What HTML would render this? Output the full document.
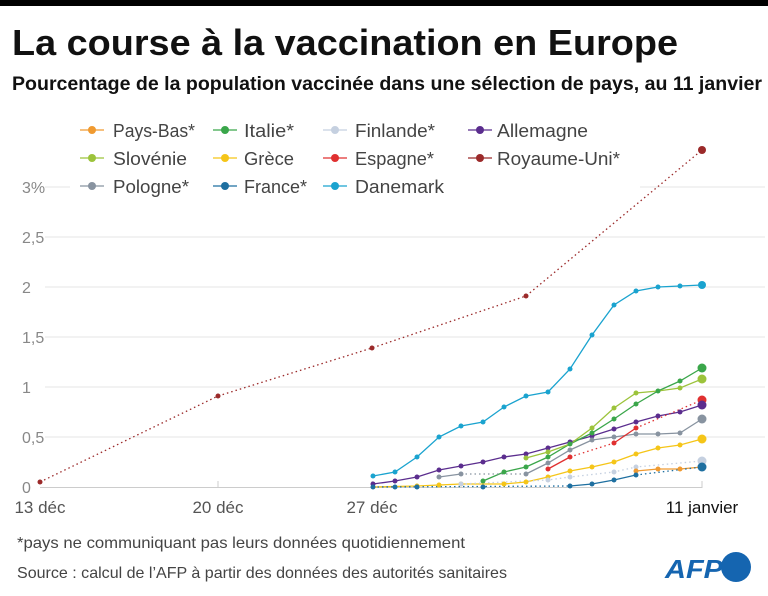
<!DOCTYPE html>
<html><head><meta charset="utf-8"><style>
html,body{margin:0;padding:0;background:#fff;}
svg{display:block;font-family:"Liberation Sans Narrow","Liberation Sans",sans-serif;}
</style></head><body>
<svg width="768" height="596" viewBox="0 0 768 596" xmlns="http://www.w3.org/2000/svg">
<rect x="0" y="0" width="768" height="6" fill="#000"/>
<text x="12" y="55" font-family="Liberation Sans, sans-serif" font-weight="bold" font-size="36" fill="#111" textLength="666" lengthAdjust="spacingAndGlyphs">La course à la vaccination en Europe</text>
<text x="12" y="90" font-family="Liberation Sans, sans-serif" font-weight="bold" font-size="19" fill="#111" textLength="750" lengthAdjust="spacingAndGlyphs">Pourcentage de la population vaccinée dans une sélection de pays, au 11 janvier</text>
<g stroke="#e6e6e6" stroke-width="1">
<line x1="45" y1="187" x2="765" y2="187"/><line x1="45" y1="237" x2="765" y2="237"/>
<line x1="45" y1="287" x2="765" y2="287"/><line x1="45" y1="337" x2="765" y2="337"/>
<line x1="45" y1="387" x2="765" y2="387"/><line x1="45" y1="437" x2="765" y2="437"/>
</g>
<line x1="40" y1="487.5" x2="702" y2="487.5" stroke="#ccc"/>
<g stroke="#ccc"><line x1="218" y1="481" x2="218" y2="488"/><line x1="372" y1="481" x2="372" y2="488"/><line x1="702" y1="481" x2="702" y2="488"/></g>
<g font-size="16" fill="#888" font-family="Liberation Sans, sans-serif">
<text x="22" y="193">3%</text><text x="22" y="243">2,5</text><text x="22" y="293">2</text>
<text x="22" y="343">1,5</text><text x="22" y="393">1</text><text x="22" y="443">0,5</text><text x="22" y="493">0</text>
</g>
<rect x="70" y="115" width="570" height="85" fill="#fff"/>
<g font-size="17" fill="#555" font-family="Liberation Sans, sans-serif">
<text x="40" y="513" text-anchor="middle">13 déc</text>
<text x="218" y="513" text-anchor="middle">20 déc</text>
<text x="372" y="513" text-anchor="middle">27 déc</text>
<text x="702" y="513" text-anchor="middle" fill="#111">11 janvier</text>
</g>
<g fill="none" stroke-width="1.3">
<polyline stroke="#9b2a2a" stroke-dasharray="1.5,3" points="40,482 218,396 372,348 526,296 702,150"/>
<polyline stroke="#1aa3cf" points="373,476 395,472 417,457 439,437 461,426 483,422 504,407 526,396 548,392 570,369 592,335 614,305 636,291 658,287 680,286 702,285"/>
<polyline stroke="#5b2d8e" points="373,484 395,481 417,477 439,470 461,466 483,462 504,457 526,454 548,448 570,442 592,436 614,429 636,422 658,416 680,412 702,405"/>
<polyline stroke="#3aa64a" points="483,481 504,472 526,467 548,457 570,444 592,433 614,419 636,404 658,391 680,381 702,368"/>
<polyline stroke="#9cc33b" points="526,458 548,452 570,444 592,428 614,408 636,393 658,391 680,388 702,379"/>
<polyline stroke="#8893a0" stroke-dasharray="1.5,3" points="461,474 526,474"/>
<polyline stroke="#8893a0" points="439,477 461,474"/>
<polyline stroke="#8893a0" points="526,474 548,463 570,450 592,440 614,437 636,434 658,434 680,433 702,419"/>
<polyline stroke="#f5c518" points="373,487 417,486 439,485 461,484 483,484 504,484 526,482 548,477 570,471 592,467 614,462 636,454 658,448 680,445 702,439"/>
<polyline stroke="#c5d0e0" stroke-dasharray="1.5,3" points="461,484 548,480 570,477 614,472 636,467 702,461"/>
<polyline stroke="#e03030" points="548,469 570,457"/>
<polyline stroke="#e03030" stroke-dasharray="1.5,3" points="570,457 614,443"/>
<polyline stroke="#e03030" points="614,443 636,428"/>
<polyline stroke="#e03030" stroke-dasharray="1.5,3" points="636,428 702,400"/>
<polyline stroke="#f09a30" points="636,471 658,469 680,469 702,467"/>
<polyline stroke="#1e6fa0" stroke-dasharray="1.5,3" points="373,487 570,486"/>
<polyline stroke="#1e6fa0" points="570,486 592,484 614,480 636,475"/>
<polyline stroke="#1e6fa0" stroke-dasharray="1.5,3" points="636,475 702,467"/>
</g>
<g>
<g fill="#9b2a2a"><circle cx="40" cy="482" r="2.5"/><circle cx="218" cy="396" r="2.5"/><circle cx="372" cy="348" r="2.5"/><circle cx="526" cy="296" r="2.5"/><circle cx="702" cy="150" r="4"/></g>
<g fill="#1aa3cf"><circle cx="373" cy="476" r="2.5"/><circle cx="395" cy="472" r="2.5"/><circle cx="417" cy="457" r="2.5"/><circle cx="439" cy="437" r="2.5"/><circle cx="461" cy="426" r="2.5"/><circle cx="483" cy="422" r="2.5"/><circle cx="504" cy="407" r="2.5"/><circle cx="526" cy="396" r="2.5"/><circle cx="548" cy="392" r="2.5"/><circle cx="570" cy="369" r="2.5"/><circle cx="592" cy="335" r="2.5"/><circle cx="614" cy="305" r="2.5"/><circle cx="636" cy="291" r="2.5"/><circle cx="658" cy="287" r="2.5"/><circle cx="680" cy="286" r="2.5"/><circle cx="702" cy="285" r="4"/></g>
<g fill="#5b2d8e"><circle cx="373" cy="484" r="2.5"/><circle cx="395" cy="481" r="2.5"/><circle cx="417" cy="477" r="2.5"/><circle cx="439" cy="470" r="2.5"/><circle cx="461" cy="466" r="2.5"/><circle cx="483" cy="462" r="2.5"/><circle cx="504" cy="457" r="2.5"/><circle cx="526" cy="454" r="2.5"/><circle cx="548" cy="448" r="2.5"/><circle cx="570" cy="442" r="2.5"/><circle cx="592" cy="436" r="2.5"/><circle cx="614" cy="429" r="2.5"/><circle cx="636" cy="422" r="2.5"/><circle cx="658" cy="416" r="2.5"/><circle cx="680" cy="412" r="2.5"/></g>
<g fill="#3aa64a"><circle cx="483" cy="481" r="2.5"/><circle cx="504" cy="472" r="2.5"/><circle cx="526" cy="467" r="2.5"/><circle cx="548" cy="457" r="2.5"/><circle cx="570" cy="444" r="2.5"/><circle cx="592" cy="433" r="2.5"/><circle cx="614" cy="419" r="2.5"/><circle cx="636" cy="404" r="2.5"/><circle cx="658" cy="391" r="2.5"/><circle cx="680" cy="381" r="2.5"/><circle cx="702" cy="368" r="4.5"/></g>
<g fill="#9cc33b"><circle cx="526" cy="458" r="2.5"/><circle cx="548" cy="452" r="2.5"/><circle cx="592" cy="428" r="2.5"/><circle cx="614" cy="408" r="2.5"/><circle cx="636" cy="393" r="2.5"/><circle cx="680" cy="388" r="2.5"/><circle cx="702" cy="379" r="4.5"/></g>
<g fill="#8893a0"><circle cx="439" cy="477" r="2.5"/><circle cx="461" cy="474" r="2.5"/><circle cx="526" cy="474" r="2.5"/><circle cx="548" cy="463" r="2.5"/><circle cx="570" cy="450" r="2.5"/><circle cx="592" cy="440" r="2.5"/><circle cx="614" cy="437" r="2.5"/><circle cx="636" cy="434" r="2.5"/><circle cx="658" cy="434" r="2.5"/><circle cx="680" cy="433" r="2.5"/><circle cx="702" cy="419" r="4.5"/></g>
<g fill="#f5c518"><circle cx="417" cy="486" r="2.5"/><circle cx="439" cy="485" r="2.5"/><circle cx="461" cy="484" r="2.5"/><circle cx="504" cy="484" r="2.5"/><circle cx="526" cy="482" r="2.5"/><circle cx="548" cy="477" r="2.5"/><circle cx="570" cy="471" r="2.5"/><circle cx="592" cy="467" r="2.5"/><circle cx="614" cy="462" r="2.5"/><circle cx="636" cy="454" r="2.5"/><circle cx="658" cy="448" r="2.5"/><circle cx="680" cy="445" r="2.5"/><circle cx="702" cy="439" r="4.5"/></g>
<g fill="#c5d0e0"><circle cx="461" cy="484" r="2.5"/><circle cx="548" cy="480" r="2.5"/><circle cx="570" cy="477" r="2.5"/><circle cx="614" cy="472" r="2.5"/><circle cx="636" cy="467" r="2.5"/><circle cx="702" cy="461" r="4.5"/></g>
<g fill="#e03030"><circle cx="548" cy="469" r="2.5"/><circle cx="570" cy="457" r="2.5"/><circle cx="614" cy="443" r="2.5"/><circle cx="636" cy="428" r="2.5"/><circle cx="702" cy="400" r="4.5"/></g>
<circle cx="702" cy="405" r="4.5" fill="#5b2d8e"/>
<g fill="#f09a30"><circle cx="636" cy="471" r="2.5"/><circle cx="658" cy="469" r="2.5"/><circle cx="680" cy="469" r="2.5"/></g>
<g fill="#1e6fa0"><circle cx="373" cy="487" r="2.5"/><circle cx="395" cy="487" r="2.5"/><circle cx="417" cy="487" r="2.5"/><circle cx="483" cy="487" r="2.5"/><circle cx="570" cy="486" r="2.5"/><circle cx="592" cy="484" r="2.5"/><circle cx="614" cy="480" r="2.5"/><circle cx="636" cy="475" r="2.5"/><circle cx="702" cy="467" r="4.5"/></g>
</g>
<g font-size="18" fill="#444" font-family="Liberation Sans, sans-serif">
<g stroke-width="1.3">
<line x1="80" y1="130" x2="104" y2="130" stroke="#f09a30"/><circle cx="92" cy="130" r="4" fill="#f09a30"/>
<line x1="213" y1="130" x2="237" y2="130" stroke="#3aa64a"/><circle cx="225" cy="130" r="4" fill="#3aa64a"/>
<line x1="323" y1="130" x2="347" y2="130" stroke="#c5d0e0"/><circle cx="335" cy="130" r="4" fill="#c5d0e0"/>
<line x1="468" y1="130" x2="492" y2="130" stroke="#5b2d8e"/><circle cx="480" cy="130" r="4" fill="#5b2d8e"/>
<line x1="80" y1="158" x2="104" y2="158" stroke="#9cc33b"/><circle cx="92" cy="158" r="4" fill="#9cc33b"/>
<line x1="213" y1="158" x2="237" y2="158" stroke="#f5c518"/><circle cx="225" cy="158" r="4" fill="#f5c518"/>
<line x1="323" y1="158" x2="347" y2="158" stroke="#e03030"/><circle cx="335" cy="158" r="4" fill="#e03030"/>
<line x1="468" y1="158" x2="492" y2="158" stroke="#9b2a2a"/><circle cx="480" cy="158" r="4" fill="#9b2a2a"/>
<line x1="80" y1="186" x2="104" y2="186" stroke="#8893a0"/><circle cx="92" cy="186" r="4" fill="#8893a0"/>
<line x1="213" y1="186" x2="237" y2="186" stroke="#1e6fa0"/><circle cx="225" cy="186" r="4" fill="#1e6fa0"/>
<line x1="323" y1="186" x2="347" y2="186" stroke="#1aa3cf"/><circle cx="335" cy="186" r="4" fill="#1aa3cf"/>
</g>
<text x="113" y="137" textLength="82" lengthAdjust="spacingAndGlyphs">Pays-Bas*</text>
<text x="244" y="137" textLength="50" lengthAdjust="spacingAndGlyphs">Italie*</text>
<text x="355" y="137" textLength="80" lengthAdjust="spacingAndGlyphs">Finlande*</text>
<text x="497" y="137" textLength="91" lengthAdjust="spacingAndGlyphs">Allemagne</text>
<text x="113" y="165" textLength="74" lengthAdjust="spacingAndGlyphs">Slovénie</text>
<text x="244" y="165" textLength="50" lengthAdjust="spacingAndGlyphs">Grèce</text>
<text x="355" y="165" textLength="79" lengthAdjust="spacingAndGlyphs">Espagne*</text>
<text x="497" y="165" textLength="123" lengthAdjust="spacingAndGlyphs">Royaume-Uni*</text>
<text x="113" y="193" textLength="76" lengthAdjust="spacingAndGlyphs">Pologne*</text>
<text x="244" y="193" textLength="63" lengthAdjust="spacingAndGlyphs">France*</text>
<text x="355" y="193" textLength="89" lengthAdjust="spacingAndGlyphs">Danemark</text>
</g>
<g font-size="16" fill="#444" font-family="Liberation Sans, sans-serif">
<text x="17" y="548" textLength="448" lengthAdjust="spacingAndGlyphs">*pays ne communiquant pas leurs données quotidiennement</text>
<text x="17" y="578" textLength="490" lengthAdjust="spacingAndGlyphs">Source : calcul de l’AFP à partir des données des autorités sanitaires</text>
</g>
<text x="665" y="578" font-family="Liberation Sans, sans-serif" font-weight="bold" font-style="italic" font-size="26" fill="#1565b0" textLength="58" lengthAdjust="spacingAndGlyphs">AFP</text>
<circle cx="736" cy="567" r="15" fill="#1565b0"/>
</svg>
</body></html>
